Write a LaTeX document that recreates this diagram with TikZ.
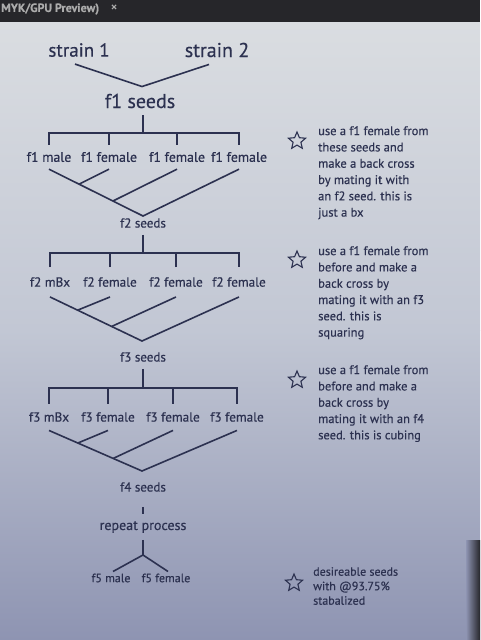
\documentclass[tikz,border=0pt]{standalone}
\usepackage{fontspec}
\setmainfont{PT Sans}[FakeBold=0.4]
\usetikzlibrary{calc,shapes.geometric}

\definecolor{ink}{HTML}{2C3150}
\definecolor{bartop}{HTML}{26262A}
\definecolor{paper}{HTML}{DADDE1}
\definecolor{papermid}{HTML}{C2C7D4}
\definecolor{paperlow}{HTML}{8E94B2}

\tikzset{
  head/.style={text=ink, font=\fontsize{19}{22}\selectfont, inner xsep=0pt, inner ysep=7pt},
  gen/.style={text=ink, font=\fontsize{13.8}{15}\selectfont, inner xsep=0pt, inner ysep=7pt},
  seeds/.style={text=ink, font=\fontsize{13}{14}\selectfont, inner xsep=0pt, inner ysep=7pt},
  note/.style={text=ink, font=\fontsize{12.5}{16.3}\selectfont, align=left, anchor=north west, inner sep=0pt},
  star5/.style={star, star points=5, star point ratio=2.2, draw=ink, line width=1.1pt, minimum size=18pt, inner sep=0pt},
  tie/.style={draw=ink, line width=1.6pt},
}

\begin{document}
\begin{tikzpicture}[x=1pt, y=-1pt]
  \useasboundingbox (0,0) rectangle (480,640);
  % screen
  \fill[top color=paper, bottom color=papermid] (0,22) rectangle (480,330);
  \fill[top color=papermid, bottom color=paperlow] (0,330) rectangle (480,640);
  \fill[left color=paperlow, right color=bartop] (466,540) rectangle (480,640);
  \fill[bartop] (0,0) rectangle (480,22);
  \node[anchor=west, inner sep=0pt, text=gray!65, font=\bfseries\fontsize{12}{13}\selectfont] (tab) at (1,9) {MYK/GPU Preview)};
  \node[text=gray!65, font=\fontsize{13}{13}\selectfont] (close) at (114,8) {×};

  % parents
  \node[head] (s1) at (79,50) {strain 1};
  \node[head, font=\fontsize{20}{22}\selectfont] (s2) at (217,50) {strain 2};
  \node[head, font=\fontsize{20}{22}\selectfont] (f1) at (140,101) {f1 seeds};
  \draw[tie] ($(s1.south)+(-4,0)$) -- ($(f1.north)+(2,0)$) -- ($(s2.south)+(-8,0)$);

  % f1 generation
  \coordinate (bar1) at (143,133);
  \draw[tie] (f1.south -| bar1) -- (bar1);
  \node[gen] (a1) at (49,157) {f1 male};
  \node[gen] (a2) at (109,157) {f1 female};
  \node[gen] (a3) at (177,157) {f1 female};
  \node[gen] (a4) at (239,157) {f1 female};
  \draw[tie] (a1.north) -- (a1.north |- bar1) -- (a4.north |- bar1) -- (a4.north);
  \foreach \n in {a2,a3} \draw[tie] (\n.north) -- (\n.north |- bar1);
  \coordinate (v1) at (143,216);
  \draw[tie] (a1.south) -- (v1) -- (a4.south);
  \draw[tie] (a2.south) -- ($(a1.south)!0.32!(v1)$);
  \draw[tie] (a3.south) -- ($(a1.south)!0.68!(v1)$);
  \node[seeds] (f2) at (143,223) {f2 seeds};

  % f2 generation
  \coordinate (bar2) at (143,253);
  \draw[tie] (f2.south) -- (bar2);
  \begin{scope}[gen/.append style={inner ysep=10pt, font=\fontsize{13.2}{15}\selectfont}]
    \node[gen] (b1) at (50,282) {f2 mBx};
    \node[gen] (b2) at (110,282) {f2 female};
    \node[gen] (b3) at (176,282) {f2 female};
    \node[gen] (b4) at (239,282) {f2 female};
  \end{scope}
  \draw[tie] (b1.north) -- (b1.north |- bar2) -- (b4.north |- bar2) -- (b4.north);
  \foreach \n in {b2,b3} \draw[tie] (\n.north) -- (\n.north |- bar2);
  \coordinate (v2) at (142,341);
  \draw[tie] (b1.south) -- (v2) -- (b4.south);
  \draw[tie] (b2.south) -- ($(b1.south)!0.30!(v2)$);
  \draw[tie] (b3.south) -- ($(b1.south)!0.67!(v2)$);
  \node[seeds] (f3) at (143,357) {f3 seeds};

  % f3 generation
  \coordinate (bar3) at (143,388);
  \draw[tie] (f3.south) -- (bar3);
  \begin{scope}[gen/.append style={inner ysep=8.5pt, font=\fontsize{13.2}{15}\selectfont}]
    \node[gen] (c1) at (49,417) {f3 mBx};
    \node[gen] (c2) at (108,417) {f3 female};
    \node[gen] (c3) at (173,417) {f3 female};
    \node[gen] (c4) at (237,417) {f3 female};
  \end{scope}
  \draw[tie] (c1.north) -- (c1.north |- bar3) -- (c4.north |- bar3) -- (c4.north);
  \foreach \n in {c2,c3} \draw[tie] (\n.north) -- (\n.north |- bar3);
  \coordinate (v3) at (142,471);
  \draw[tie] (c1.south) -- (v3) -- (c4.south);
  \draw[tie] (c2.south) -- ($(c1.south)!0.31!(v3)$);
  \draw[tie] (c3.south) -- ($(c1.south)!0.69!(v3)$);
  \node[seeds] (f4) at (143,487) {f4 seeds};

  % repeat and f5
  \node[gen, font=\fontsize{14}{15}\selectfont] (rep) at (143,527) {repeat process};
  \draw[tie, shorten <=8pt] (f4.south) -- (rep.north);
  \coordinate (v4) at (143,555);
  \draw[tie] (rep.south) -- (v4);
  \node[seeds, inner ysep=2pt, font=\fontsize{12}{14}\selectfont] (m5) at (111,578) {f5 male};
  \node[seeds, inner ysep=2pt, font=\fontsize{12}{14}\selectfont] (w5) at (166,578) {f5 female};
  \draw[tie] ($(m5.north)+(2,0)$) -- (v4) -- ($(w5.north)+(2,0)$);

  % notes
  \node[star5] (st1) at (297,141) {};
  \node[note] (n1) at (318,126) {use a f1 female from\\these seeds and\\make a back cross\\by mating it with\\an f2 seed. this is\\just a bx};
  \node[star5] (st2) at (297,260) {};
  \node[note] (n2) at (318,246) {use a f1 female from\\before and make a\\back cross by\\mating it with an f3\\seed. this is\\squaring};
  \node[star5] (st3) at (297,380) {};
  \node[note] (n3) at (318,365) {use a f1 female from\\before and make a\\back cross by\\mating it with an f4\\seed. this is cubing};
  \node[star5] (st4) at (294,583) {};
  \node[note, font=\fontsize{12}{14.5}\selectfont] (n4) at (313,567) {desireable seeds\\with @93.75\%\\stabalized};
\end{tikzpicture}
\end{document}
